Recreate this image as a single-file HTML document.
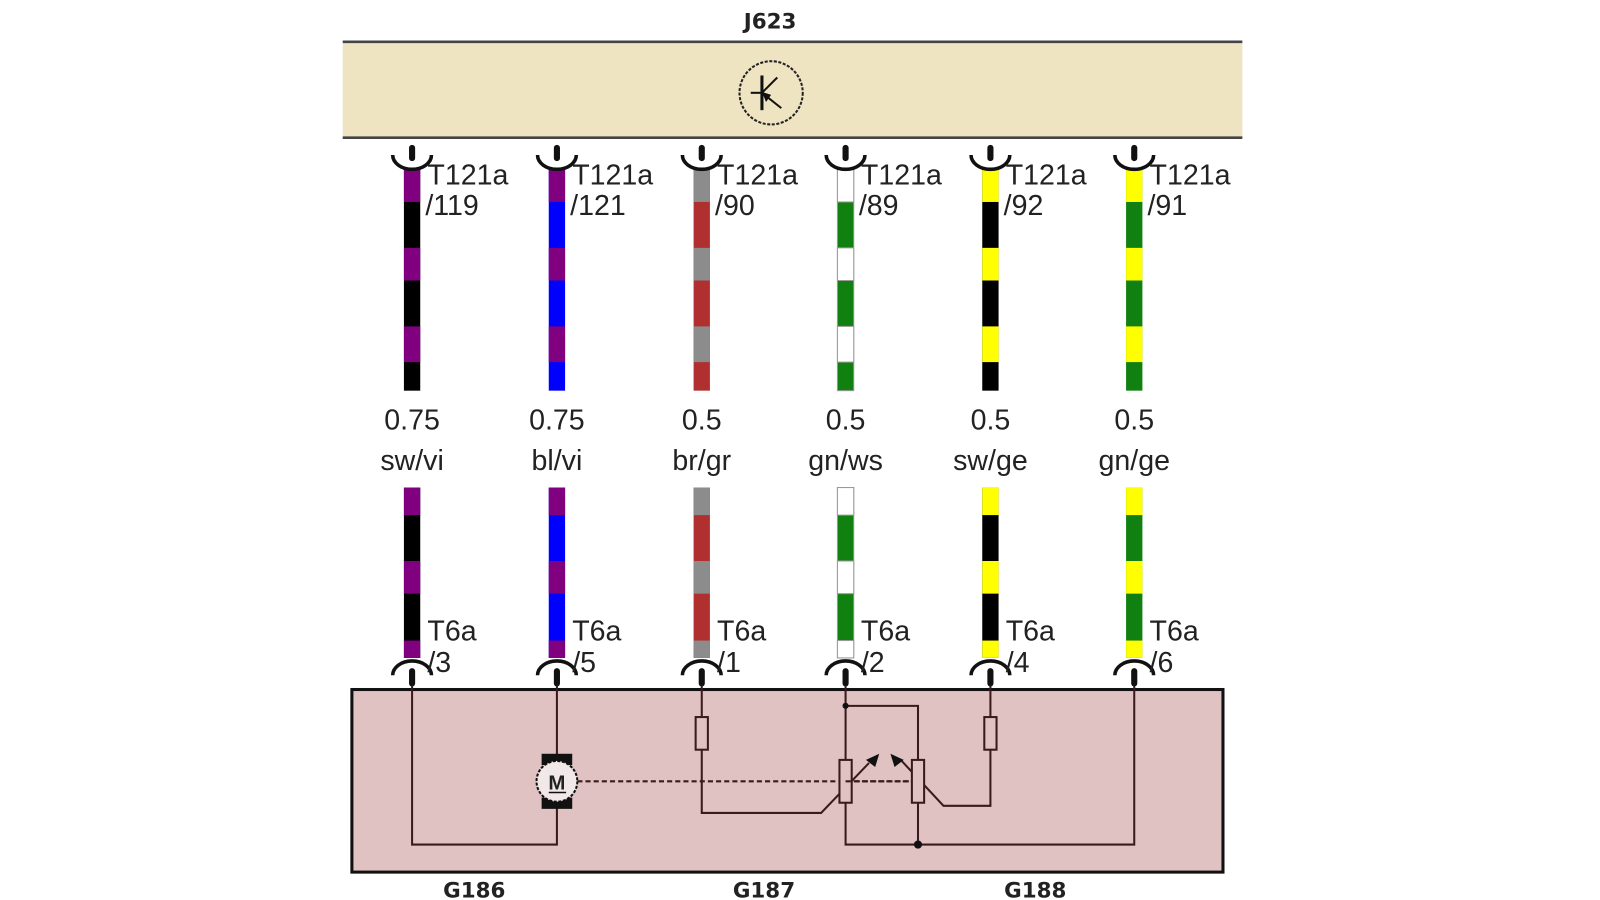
<!DOCTYPE html>
<html><head><meta charset="utf-8"><style>
html,body{margin:0;padding:0;background:#fff;overflow:hidden;}
svg{display:block;}
text{font-family:"Liberation Sans",sans-serif;fill:#222;}
.b{font-family:"DejaVu Sans","Liberation Sans",sans-serif;font-weight:bold;font-size:21px;}
</style></head><body>
<svg width="1600" height="900" viewBox="0 0 1600 900" xmlns="http://www.w3.org/2000/svg">
<defs>
<g id="base"><rect x="-8" y="165" width="16" height="218"/><rect x="-8" y="478" width="16" height="167"/></g>
<g id="alt"><rect x="-8" y="165" width="16" height="33"/><rect x="-8" y="243" width="16" height="32"/><rect x="-8" y="320" width="16" height="35"/><rect x="-8" y="478" width="16" height="27"/><rect x="-8" y="550" width="16" height="32"/><rect x="-8" y="628" width="16" height="17"/></g>
<g id="tc"><rect x="-3" y="142" width="6" height="16" rx="3" fill="#111"/><path d="M-19,152 A19,14 0 0 0 19,152" fill="none" stroke="#111" stroke-width="3.5"/></g>
<g id="bc"><path d="M-19,662 A19,14 0 0 1 19,662" fill="none" stroke="#111" stroke-width="3.5"/><rect x="-3" y="655" width="6" height="18" rx="3" fill="#111"/></g>
</defs>
<g transform="scale(1.02)">
<text x="755" y="28" class="b" text-anchor="middle">J623</text>
<rect x="336" y="41" width="882" height="94" fill="#efe4c2"/>
<line x1="336" y1="41" x2="1218" y2="41" stroke="#444" stroke-width="2.5"/>
<line x1="336" y1="135" x2="1218" y2="135" stroke="#444" stroke-width="2.5"/>
<circle cx="756" cy="91" r="31" fill="none" stroke="#222" stroke-width="2" stroke-dasharray="3,1.5"/>
<line x1="747" y1="74" x2="747" y2="108" stroke="#111" stroke-width="3"/>
<line x1="736" y1="91" x2="747" y2="91" stroke="#111" stroke-width="2"/>
<line x1="747" y1="91" x2="762" y2="76" stroke="#111" stroke-width="2"/>
<line x1="747" y1="91" x2="766" y2="106" stroke="#111" stroke-width="2"/>
<polygon points="747,90 756,93 751,100" fill="#111"/>
<rect x="345" y="676" width="854" height="179" fill="#e0c2c2" stroke="#111" stroke-width="3"/>

<g transform="translate(404,0)"><use href="#base" fill="#000"/><use href="#alt" fill="#800080"/><use href="#tc"/><use href="#bc"/></g>
<g transform="translate(546,0)"><use href="#base" fill="#0000ff"/><use href="#alt" fill="#800080"/><use href="#tc"/><use href="#bc"/></g>
<g transform="translate(688,0)"><use href="#base" fill="#b03030"/><use href="#alt" fill="#8c8c8c"/><use href="#tc"/><use href="#bc"/></g>
<g transform="translate(829,0)"><use href="#base" fill="#108010" stroke="#999" stroke-width="1"/><use href="#alt" fill="#fff" stroke="#999" stroke-width="1"/><use href="#tc"/><use href="#bc"/></g>
<g transform="translate(971,0)"><use href="#base" fill="#000"/><use href="#alt" fill="#ffff00"/><use href="#tc"/><use href="#bc"/></g>
<g transform="translate(1112,0)"><use href="#base" fill="#108010"/><use href="#alt" fill="#ffff00"/><use href="#tc"/><use href="#bc"/></g>

<g font-size="28">
<text x="419" y="181">T121a</text><text x="417" y="211">/119</text>
<text x="561" y="181">T121a</text><text x="559" y="211">/121</text>
<text x="703" y="181">T121a</text><text x="701" y="211">/90</text>
<text x="844" y="181">T121a</text><text x="842" y="211">/89</text>
<text x="986" y="181">T121a</text><text x="984" y="211">/92</text>
<text x="1127" y="181">T121a</text><text x="1125" y="211">/91</text>
</g>
<g font-size="28" text-anchor="middle">
<text x="404" y="421">0.75</text><text x="404" y="461">sw/vi</text>
<text x="546" y="421">0.75</text><text x="546" y="461">bl/vi</text>
<text x="688" y="421">0.5</text><text x="688" y="461">br/gr</text>
<text x="829" y="421">0.5</text><text x="829" y="461">gn/ws</text>
<text x="971" y="421">0.5</text><text x="971" y="461">sw/ge</text>
<text x="1112" y="421">0.5</text><text x="1112" y="461">gn/ge</text>
</g>
<g font-size="28">
<text x="419" y="628">T6a</text><text x="419" y="659">/3</text>
<text x="561" y="628">T6a</text><text x="561" y="659">/5</text>
<text x="703" y="628">T6a</text><text x="703" y="659">/1</text>
<text x="844" y="628">T6a</text><text x="844" y="659">/2</text>
<text x="986" y="628">T6a</text><text x="986" y="659">/4</text>
<text x="1127" y="628">T6a</text><text x="1127" y="659">/6</text>
</g>

<g stroke="#3a1a1a" stroke-width="2" fill="none">
<polyline points="404,672 404,828 546,828 546,792"/>
<line x1="546" y1="672" x2="546" y2="740"/>
<line x1="688" y1="672" x2="688" y2="703"/>
<polyline points="688,735 688,797 805,797 852,748"/>
<polyline points="829,672 829,828 1112,828 1112,672"/>
<polyline points="829,692 900,692 900,828"/>
<line x1="971" y1="672" x2="971" y2="703"/>
<polyline points="971,735 971,790 925,790 884,746"/>
<line x1="566" y1="766" x2="905" y2="766" stroke-dasharray="5,3"/>
</g>
<rect x="682" y="703" width="12" height="32" fill="#e0c2c2" stroke="#3a1a1a" stroke-width="2"/>
<rect x="965" y="703" width="12" height="32" fill="#e0c2c2" stroke="#3a1a1a" stroke-width="2"/>
<rect x="823" y="745" width="12" height="42" fill="#e0c2c2" stroke="#3a1a1a" stroke-width="2"/>
<rect x="894" y="745" width="12" height="42" fill="#e0c2c2" stroke="#3a1a1a" stroke-width="2"/>
<line x1="829" y1="766" x2="894" y2="766" stroke="#3a1a1a" stroke-width="2" stroke-dasharray="5,3"/>
<polygon points="862,739 858,752 849,745" fill="#111"/>
<polygon points="873,739 877,752 886,745" fill="#111"/>
<circle cx="829" cy="692" r="3" fill="#111"/>
<circle cx="900" cy="828" r="4" fill="#111"/>
<rect x="531" y="739" width="30" height="11" fill="#111"/>
<rect x="531" y="782" width="30" height="11" fill="#111"/>
<circle cx="546" cy="766" r="20" fill="#f2e8e8" stroke="#111" stroke-width="2" stroke-dasharray="3,1.5"/>
<text x="546" y="774" font-size="20" text-anchor="middle" font-weight="bold">M</text>
<line x1="538" y1="777" x2="555" y2="777" stroke="#111" stroke-width="1.5"/>

<text x="465" y="880" class="b" text-anchor="middle">G186</text>
<text x="749" y="880" class="b" text-anchor="middle">G187</text>
<text x="1015" y="880" class="b" text-anchor="middle">G188</text>
</g>
</svg>
</body></html>
